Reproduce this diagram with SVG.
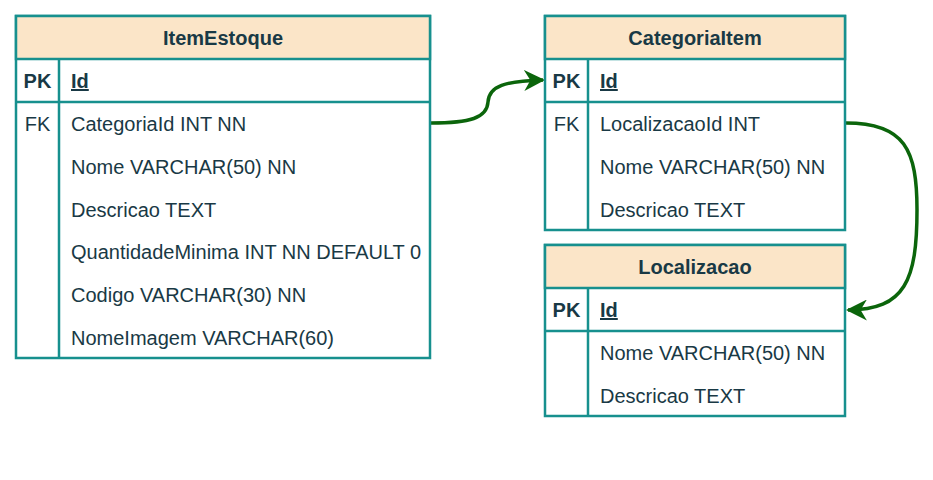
<svg xmlns="http://www.w3.org/2000/svg" width="933" height="480" viewBox="0 0 933 480">
<defs>
<style>
.box{fill:#ffffff;stroke:#17908e;stroke-width:2.5}
.hdr{fill:#fbe5c8;stroke:#17908e;stroke-width:2.5}
.ln{stroke:#17908e;stroke-width:2.5;fill:none}
text{font-family:"Liberation Sans",Arial,sans-serif;font-size:20px;fill:#193945}
.t{font-weight:bold;text-anchor:middle}
.k{text-anchor:middle}
.b{font-weight:bold}
.pk{font-weight:bold;text-decoration:underline}
.edge{fill:none;stroke:#0b650b;stroke-width:3.5}
</style>
<marker id="arr" viewBox="0 0 10 10" refX="9" refY="5" markerWidth="6" markerHeight="6" orient="auto" markerUnits="strokeWidth">
<path d="M0 0 L10 5 L0 10 L3 5 Z" fill="#0b650b"/>
</marker>
</defs>
<rect width="933" height="480" fill="#ffffff"/>
<g id="connectors">
<path class="edge" d="M431 123 C470 123 487 118 488 102 C489 86 505 81 543 80" marker-end="url(#arr)"/>
<path class="edge" d="M846 123 C905 123 917 150 917 210 C917 280 905 310 848 310" marker-end="url(#arr)"/>
</g>
<g id="ItemEstoque">
<rect class="box" x="16" y="16" width="414" height="342"/>
<rect class="hdr" x="16" y="16" width="414" height="43"/>
<line class="ln" x1="16" y1="102" x2="430" y2="102"/>
<line class="ln" x1="59" y1="59" x2="59" y2="358"/>
<text class="t" x="223" y="45">ItemEstoque</text>
<text class="k b" x="37.5" y="88">PK</text>
<text class="pk" x="71" y="88">Id</text>
<text class="k" x="37.5" y="131">FK</text>
<text x="71" y="131">CategoriaId INT NN</text>
<text x="71" y="174">Nome VARCHAR(50) NN</text>
<text x="71" y="217">Descricao TEXT</text>
<text x="71" y="259">QuantidadeMinima INT NN DEFAULT 0</text>
<text x="71" y="302">Codigo VARCHAR(30) NN</text>
<text x="71" y="345">NomeImagem VARCHAR(60)</text>
</g>
<g id="CategoriaItem">
<rect class="box" x="545" y="16" width="300" height="214"/>
<rect class="hdr" x="545" y="16" width="300" height="43"/>
<line class="ln" x1="545" y1="102" x2="845" y2="102"/>
<line class="ln" x1="588" y1="59" x2="588" y2="230"/>
<text class="t" x="695" y="45">CategoriaItem</text>
<text class="k b" x="566.5" y="88">PK</text>
<text class="pk" x="600" y="88">Id</text>
<text class="k" x="566.5" y="131">FK</text>
<text x="600" y="131">LocalizacaoId INT</text>
<text x="600" y="174">Nome VARCHAR(50) NN</text>
<text x="600" y="217">Descricao TEXT</text>
</g>
<g id="Localizacao">
<rect class="box" x="545" y="245" width="300" height="171"/>
<rect class="hdr" x="545" y="245" width="300" height="43"/>
<line class="ln" x1="545" y1="331" x2="845" y2="331"/>
<line class="ln" x1="588" y1="288" x2="588" y2="416"/>
<text class="t" x="695" y="274">Localizacao</text>
<text class="k b" x="566.5" y="317">PK</text>
<text class="pk" x="600" y="317">Id</text>
<text x="600" y="360">Nome VARCHAR(50) NN</text>
<text x="600" y="403">Descricao TEXT</text>
</g>
</svg>
